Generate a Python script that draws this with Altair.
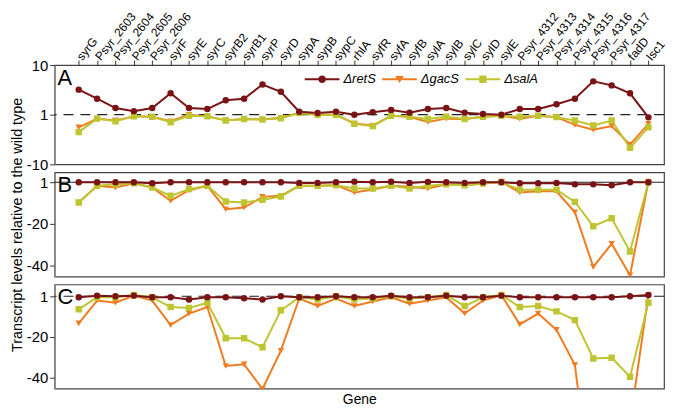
import json
import altair as alt
import pandas as pd

genes = ["syrG", "Psyr_2603", "Psyr_2604", "Psyr_2605", "Psyr_2606", "syrF", "syrE",
         "syrC", "syrB2", "syrB1", "syrP", "syrD", "sypA", "sypB", "sypC", "rhlA",
         "syfR", "syfA", "syfB", "sylA", "sylB", "sylC", "sylD", "sylE",
         "Psyr_4312", "Psyr_4313", "Psyr_4314", "Psyr_4315", "Psyr_4316", "Psyr_4317",
         "fadD", "lsc1"]

# Panel A (signed fold change, log axis)
A_retS = [3.2, 2.1, 1.36, 1.18, 1.36, 2.7, 1.36, 1.3, 1.95, 2.1, 4.05, 2.9, 1.15, 1.08, 1.15, 1.0,
          1.12, 1.25, 1.1, 1.3, 1.36, 1.1, 1.03, 1.0, 1.3, 1.3, 1.63, 2.1, 4.7, 3.9, 2.7, -1.13]
A_gacS = [-1.8, -1.2, -1.3, -1.08, -1.1, -1.35, -1.0, -1.08, -1.3, -1.22, -1.25, -1.15, 1.08, 1.0, 1.0, -1.5,
          -1.65, -1.05, -1.1, -1.4, -1.2, -1.22, -1.1, -1.05, -1.2, -1.05, -1.12, -1.6, -2.0, -1.7, -4.0, -1.53]
A_salA = [-2.24, -1.2, -1.36, -1.08, -1.1, -1.42, -1.05, -1.08, -1.31, -1.22, -1.25, -1.18, 1.08, 1.0, 1.0, -1.53,
          -1.7, -1.05, -1.1, -1.22, -1.1, -1.22, -1.1, -1.05, -1.1, -1.05, -1.12, -1.31, -1.65, -1.31, -4.65, -1.8]

# Panel B (linear axis, tick "1" = no change)
B_retS = [0, 0, 0, 0, -0.5, 0, 0, 0, 0, 0, 0, 0, -0.3, -0.3, 0, 0.3,
          0, 0.3, -0.3, 0.2, 0, -0.3, 0, 0, -0.5, -0.5, -0.3, -1, -1, -1.4, 0, 0]
B_gacS = [-9.7, -1.7, -2.5, -0.5, -2.5, -8.9, -3.8, -1.7, -12.9, -12.1, -7, -6.5, -1.7, -1.7, -1.4, -4.9,
          -3.5, -1.7, -2.2, -3, -1, -1.4, -0.6, 0.3, -4.9, -4.3, -4.3, -14.4, -40.6, -29.5, -44.6, 0.4]
B_salA = [-9.7, -1.7, -1, -0.5, -2.5, -6.5, -3.3, -1.7, -9.2, -9.7, -8.4, -6.8, -1.7, -1.7, -1.4, -3,
          -3, -1.7, -3, -1.7, -1, -1.4, -0.6, 0, -3.6, -3.6, -3.6, -9.4, -21.1, -17.3, -33.2, 0]

# Panel C
C_retS = [-0.5, 0.3, 0, 0.3, -0.5, -0.5, -1.6, -0.5, -0.5, -1, -1.6, 0, -0.5, -0.5, 0, -0.5,
          -0.5, 0.3, -0.5, -0.5, 0.3, -0.5, -0.5, 0.3, -0.5, -0.5, -0.5, -0.5, -0.5, -0.5, 0, 0.6]
C_gacS = [-13.3, -2.1, -3.2, 0.3, -2.1, -14.1, -8.5, -5.3, -34.2, -33.4, -45.5, -26.7, -1.1, -4.8, -1.1, -4.8,
          -2.6, -0.5, -3.7, -2.1, -0.5, -8.5, -2.1, 0.6, -13.8, -8.5, -16.5, -33.7, -105, -90, -62, 0.6]
C_salA = [-6.4, -0.5, -0.5, 0.6, -0.5, -5.3, -5.8, -3.2, -20.6, -20.6, -25, -6.9, -0.5, -1.6, 0, -1.6,
          -1.1, 0, -1.1, -0.5, 0.6, -4.8, -0.5, 0.6, -5.3, -4.8, -7.4, -11.7, -30.5, -30.2, -39.5, -3.2]

series = ["\u0394retS", "\u0394gacS", "\u0394salA"]
colors = ["#7a1315", "#ef7c21", "#bfc531"]
shapes = ["circle", "triangle-down", "square"]
legend_paths = [
    "M-1,-0.06H1V0.06H-1Z M0.22,0A0.22,0.22 0 1,1 -0.22,0A0.22,0.22 0 1,1 0.22,0Z",
    "M-1,-0.06H1V0.06H-1Z M-0.25,-0.18L0.25,-0.18L0,0.22Z",
    "M-1,-0.06H1V0.06H-1Z M-0.21,-0.21H0.21V0.21H-0.21Z",
]
draw_order = ["\u0394gacS", "\u0394salA", "\u0394retS"]


def make_df(retS, gacS, salA):
    vals = {"\u0394retS": retS, "\u0394gacS": gacS, "\u0394salA": salA}
    rows = []
    for s in draw_order:
        for i, v in enumerate(vals[s]):
            rows.append({"idx": i + 1, "gene": genes[i], "series": s, "value": v})
    return pd.DataFrame(rows)


dfA = make_df(A_retS, A_gacS, A_salA)
dfB = make_df(B_retS, B_gacS, B_salA)
dfC = make_df(C_retS, C_gacS, C_salA)

W = 614
xscale = alt.Scale(domain=[-0.31, 32.85], nice=False, zero=False)
gene_expr = json.dumps([""] + genes) + "[datum.value]"

color_enc = alt.Color("series:N", scale=alt.Scale(domain=series, range=colors), legend=None)
shape_enc = alt.Shape("series:N", scale=alt.Scale(domain=series, range=shapes), legend=None)


def panel(df, yfield, yscale, yaxis, xaxis, letter, height, dashed, extra=None, transform=None):
    base = alt.Chart(df)
    if transform is not None:
        base = base.transform_calculate(y=transform)
    x = alt.X("idx:Q", scale=xscale, axis=xaxis)
    y = alt.Y(yfield, scale=yscale, axis=yaxis)
    rule_kwargs = dict(color="#222222", strokeWidth=1.2)
    if dashed:
        rule_kwargs["strokeDash"] = [10, 7]
    rule = alt.Chart(pd.DataFrame({"ref": [0]})).mark_rule(**rule_kwargs).encode(y=alt.datum(0))
    line = base.mark_line(strokeWidth=2, clip=True).encode(x=x, y=y, color=color_enc)
    pts = base.mark_point(filled=True, opacity=1, size=42, clip=True).encode(
        x=x, y=y, color=color_enc, shape=shape_enc)
    txt = alt.Chart(pd.DataFrame({"t": [letter]})).mark_text(
        align="left", baseline="top", fontSize=22, color="black").encode(
        x=alt.value(3), y=alt.value(3), text="t:N")
    layers = [rule, line, pts, txt]
    if extra is not None:
        layers.append(extra)
    return alt.layer(*layers).resolve_scale(color="independent", shape="independent").properties(
        width=W, height=height)


leg = alt.Legend(orient="none", legendX=252, legendY=-3.5, direction="horizontal", title=None,
                 symbolSize=1225, labelFontSize=13, labelFontStyle="italic", labelOffset=4,
                 columnPadding=6, padding=0, symbolStrokeWidth=0, labelColor="black")
legend_layer = alt.Chart(dfA).transform_filter("false").mark_point(filled=True, opacity=1).encode(
    color=alt.Color("series:N", scale=alt.Scale(domain=series, range=colors), legend=leg),
    shape=alt.Shape("series:N", scale=alt.Scale(domain=series, range=legend_paths), legend=leg),
)

xaxis_top = alt.Axis(orient="top", values=list(range(1, 33)), labelExpr=gene_expr, labelAngle=-51,
                     labelAlign="left", labelBaseline="middle", labelFontSize=12, labelPadding=2,
                     tickSize=5, title=None, labelOverlap=False, labelFlush=False, domain=False)
xaxis_C = alt.Axis(title="Gene", labels=False, ticks=False, domain=False, titleFontSize=14,
                   titlePadding=4, titleFontWeight="normal")

yaxis_A = alt.Axis(values=[-1, 0, 1], labelExpr="datum.value > 0 ? '10' : (datum.value < 0 ? '-10' : '1')",
                   title=None, labelFontSize=15, tickSize=5, labelPadding=2, labelOverlap=False)
lin_expr = "datum.value == 0 ? '1' : (datum.value % 20 == 0 ? '' + datum.value : '')"
yaxis_B = alt.Axis(values=[0, -10, -20, -30, -40], labelExpr=lin_expr,
                   title="Transcript levels relative to the wild type", titleFontSize=14.5,
                   titleFontWeight="normal", titlePadding=2, labelFontSize=15, tickSize=5,
                   labelPadding=2, labelOverlap=False)
yaxis_C = alt.Axis(values=[0, -10, -20, -30, -40], labelExpr=lin_expr, title=None, labelFontSize=15,
                   tickSize=5, labelPadding=2, labelOverlap=False)

pA = panel(dfA, "y:Q", alt.Scale(domain=[-1, 1], nice=False, zero=False), yaxis_A, xaxis_top, "A", 100,
           True, extra=legend_layer,
           transform="datum.value >= 0 ? log(datum.value)/LN10 : -log(-datum.value)/LN10")
pB = panel(dfB, "value:Q", alt.Scale(domain=[-45.2, 4.8], nice=False, zero=False), yaxis_B, None, "B",
           105, False)
pC = panel(dfC, "value:Q", alt.Scale(domain=[-45.3, 5.8], nice=False, zero=False), yaxis_C, xaxis_C, "C",
           105, True)

chart = alt.vconcat(pA, pB, pC, spacing=8, bounds="flush").resolve_scale(
    color="independent", shape="independent").properties(
    padding={"left": 0, "top": 0, "right": 0, "bottom": 0}
).configure(font="Liberation Sans").configure_view(stroke="#444444", strokeWidth=1.2).configure_axis(
    labelColor="black", tickColor="#333333", titleColor="black", grid=False, labelFont="Liberation Sans",
    titleFont="Liberation Sans")

chart.save("out.html", embed_options={"renderer": "svg", "actions": False})
